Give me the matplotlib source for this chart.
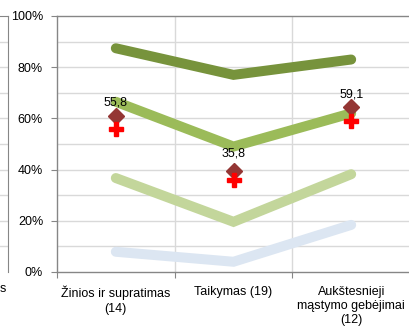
import matplotlib
matplotlib.use("Agg")
import matplotlib.pyplot as plt
import numpy as np

plt.rcParams['font.family'] = ['Liberation Sans', 'DejaVu Sans']

categories = ["Žinios ir supratimas\n(14)", "Taikymas (19)", "Aukštesnieji\nmąstymo gebėjimai\n(12)"]
series_top = [87.4, 77.0, 83.0]        # dark green
series_upper = [66.5, 49.0, 62.0]      # medium green
series_lower = [36.7, 19.6, 38.2]      # light green
series_bottom = [7.9, 4.0, 18.4]       # light blue
diamond_vals = [61.0, 39.6, 64.3]
plus_vals = [55.8, 35.8, 59.1]
plus_labels = ["55,8", "35,8", "59,1"]
yticks = [0, 20, 40, 60, 80, 100]
ytick_labels = ["0%", "20%", "40%", "60%", "80%", "100%"]

W, H = 409, 330
fig = plt.figure(figsize=(W/100, H/100), dpi=100)

axis_col = "#868686"
grid_col = "#D9D9D9"
fs = 9

# partial chart on the left (cut off)
axl = fig.add_axes([-200/W, (H-272)/H, 208/W, 256/H])
axl.set_xlim(0, 1); axl.set_ylim(0, 100)
for v in range(10, 100, 10):
    axl.axhline(v, color=grid_col, lw=1, zorder=0)
for s in ['left', 'bottom']:
    axl.spines[s].set_visible(False)
axl.spines['right'].set_color(axis_col)
axl.spines['top'].set_color(axis_col)
axl.set_xticks([]); axl.set_yticks([])
fig.text(0/W, 1-289/H, "s", ha='left', va='center', fontsize=fs)

# main chart
ax = fig.add_axes([57/W, (H-272)/H, 353/W, 256/H])
ax.set_xlim(0, 3)
ax.set_ylim(0, 100)
x = np.arange(3) + 0.5

for v in range(10, 100, 10):
    ax.axhline(v, color=grid_col, lw=1, zorder=0)
for b in [1, 2]:
    ax.axvline(b, color=grid_col, lw=1, zorder=0)

lw = 7.2
ax.plot(x, series_bottom, color="#DCE6F2", lw=lw, solid_capstyle='round', solid_joinstyle='miter', zorder=2)
ax.plot(x, series_lower, color="#C3D69B", lw=lw, solid_capstyle='round', solid_joinstyle='miter', zorder=2)
ax.plot(x, series_upper, color="#9BBB59", lw=lw, solid_capstyle='round', solid_joinstyle='miter', zorder=2)
ax.plot(x, series_top, color="#77933C", lw=lw, solid_capstyle='round', solid_joinstyle='miter', zorder=2)

ax.plot(x, diamond_vals, linestyle='none', marker='D', ms=8.5, color="#943634", zorder=3)
ax.plot(x, plus_vals, linestyle='none', marker='P', ms=10, color="#FF0000", mec="#FF0000", zorder=4)

for xi, pv, lab in zip(x, plus_vals, plus_labels):
    ax.annotate(lab, (xi, pv), xytext=(0, 19), textcoords='offset points',
                ha='center', va='center', fontsize=fs, zorder=5)

ax.set_yticks(yticks)
ax.set_yticklabels(ytick_labels, fontsize=fs)
ax.set_xticks([0, 1, 2, 3])
ax.set_xticklabels([])
ax.set_xticks(x, minor=True)
ax.set_xticklabels(categories, minor=True, fontsize=fs, linespacing=1.25, va='top')
ax.tick_params(axis='x', which='minor', length=0, pad=10)
ax.tick_params(axis='x', which='major', length=4, color=axis_col)
ax.tick_params(axis='y', length=4, color=axis_col, pad=6)

ax.spines['right'].set_visible(False)
for s in ['left', 'bottom', 'top']:
    ax.spines[s].set_color(axis_col)
    ax.spines[s].set_linewidth(1)

fig.savefig("out.png", dpi=100)
